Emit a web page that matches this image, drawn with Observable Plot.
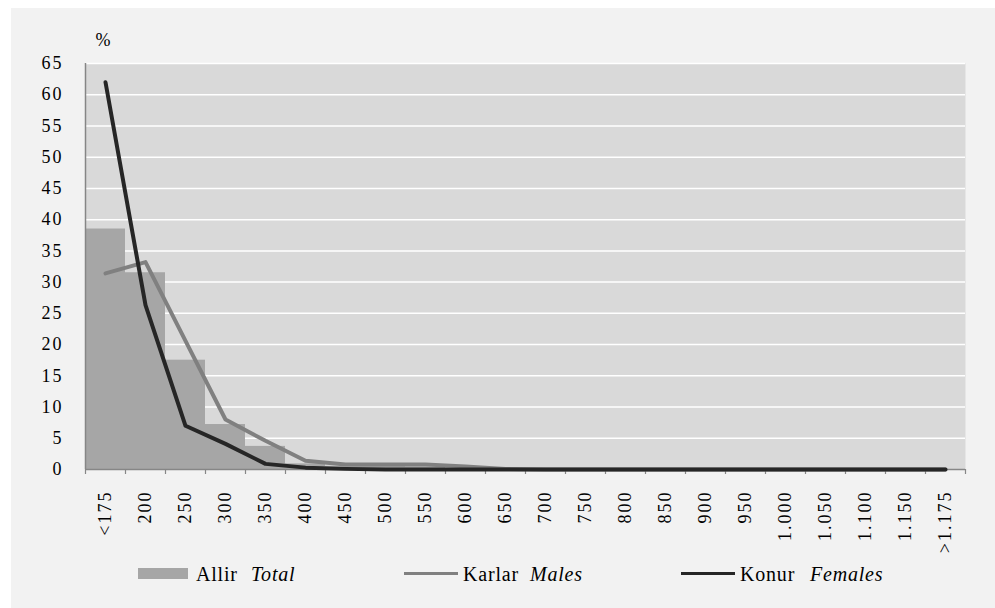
<!DOCTYPE html>
<html><head><meta charset="utf-8">
<script src="https://cdn.jsdelivr.net/npm/d3@7"></script>
<script src="https://cdn.jsdelivr.net/npm/@observablehq/plot@0.6"></script>
<style>
body{margin:0;background:#fff;width:995px;height:608px;overflow:hidden;position:relative;font-family:'Liberation Serif','Times New Roman',serif;}
#bg{position:absolute;left:11px;top:8px;width:984px;height:600px;background:#f2f2f2;}
#chart{position:absolute;left:0;top:0;}
#chart svg text{font-family:'Liberation Serif','Times New Roman',serif;}
.leg{position:absolute;font-size:20px;letter-spacing:0.8px;color:#000;white-space:nowrap;line-height:20px;font-family:'Liberation Serif','Times New Roman',serif;}
.sw{position:absolute;}
</style></head><body>
<div id="bg"></div>
<div id="chart"></div>
<div id="legend"></div>
<script>
const categories = ["<175","200","250","300","350","400","450","500","550","600","650","700","750","800","850","900","950","1.000","1.050","1.100","1.150",">1.175"];
const total   = [38.5, 31.5, 17.5, 7.2, 3.7, 0.9, 0.5, 0.5, 0.4, 0.2, 0.1, 0, 0, 0, 0, 0, 0, 0, 0, 0, 0, 0];
const males   = [31.4, 33.2, 20.6, 8.0, 4.6, 1.4, 0.8, 0.8, 0.8, 0.5, 0.1, 0, 0, 0, 0, 0, 0, 0, 0, 0, 0, 0];
const females = [62.0, 26.3, 7.0, 4.1, 0.9, 0.3, 0.1, 0, 0, 0, 0, 0, 0, 0, 0, 0, 0, 0, 0, 0, 0, 0];
const yTicks = [0,5,10,15,20,25,30,35,40,45,50,55,60,65];
const legendItems = [
  {label: "Allir", en: "Total"},
  {label: "Karlar", en: "Males"},
  {label: "Konur", en: "Females"}
];

const data = categories.map((c, i) => ({i, cat: c, total: total[i], males: males[i], females: females[i]}));

const chart = Plot.plot({
  width: 995,
  height: 608,
  marginLeft: 85,
  marginRight: 30,
  marginTop: 63,
  marginBottom: 139,
  style: {background: "transparent", fontFamily: "'Liberation Serif', 'Times New Roman', serif", fontSize: "18px", letterSpacing: "2px", color: "#000"},
  x: {type: "linear", domain: [0, categories.length], axis: null},
  y: {domain: [0, 65], axis: null},
  marks: [
    Plot.frame({fill: "#d9d9d9", stroke: null}),
    Plot.gridY(yTicks.filter(v => v > 0), {stroke: "#ffffff", strokeOpacity: 1, strokeWidth: 1.5}),
    Plot.rectY(data, {x1: "i", x2: d => d.i + 1, y1: 0, y2: "total", fill: "#a6a6a6"}),
    Plot.ruleX([0], {stroke: "#868686", strokeWidth: 1.5}),
    Plot.ruleY([0], {stroke: "#868686", strokeWidth: 1.5}),
    Plot.axisX(d3.range(categories.length + 1), {tickSize: 5, tickFormat: () => "", stroke: "#868686", strokeWidth: 1.2, label: null}),
    Plot.axisX(data.map(d => d.i + 0.5), {tickSize: 0, tickPadding: 21, tickRotate: -90, tickFormat: v => categories[Math.floor(v)], fontSize: 18, fill: "#000", label: null}),
    Plot.axisY(yTicks, {tickSize: 0, tickPadding: 22, fontSize: 18, fill: "#000", label: null}),
    Plot.text(["%"], {frameAnchor: "top-left", dx: 10, dy: -18, textAnchor: "start", lineAnchor: "bottom", fontSize: 18, fill: "#000"}),
    Plot.line(data, {x: d => d.i + 0.5, y: "males", stroke: "#808080", strokeWidth: 4, strokeLinejoin: "round", strokeLinecap: "round"}),
    Plot.line(data, {x: d => d.i + 0.5, y: "females", stroke: "#262626", strokeWidth: 4, strokeLinejoin: "round", strokeLinecap: "round"})
  ]
});
document.getElementById("chart").appendChild(chart);

// legend
const leg = document.getElementById("legend");
const swatches = [
  {left: 138, top: 568, width: 50, height: 11, bg: "#a6a6a6"},
  {left: 404, top: 572, width: 54, height: 2.5, bg: "#808080"},
  {left: 681, top: 572, width: 54, height: 2.5, bg: "#262626"}
];
const labelPos = [[196, 251], [463, 530], [740, 810]];
legendItems.forEach((it, k) => {
  const s = swatches[k];
  const sw = document.createElement("div");
  sw.className = "sw";
  Object.assign(sw.style, {left: s.left + "px", top: s.top + "px", width: s.width + "px", height: s.height + "px", background: s.bg});
  leg.appendChild(sw);
  const a = document.createElement("div");
  a.className = "leg";
  a.style.left = labelPos[k][0] + "px";
  a.style.top = "564px";
  a.textContent = it.label;
  leg.appendChild(a);
  const b = document.createElement("div");
  b.className = "leg";
  b.style.left = labelPos[k][1] + "px";
  b.style.top = "564px";
  b.style.fontStyle = "italic";
  b.textContent = it.en;
  leg.appendChild(b);
});
</script>
</body></html>
